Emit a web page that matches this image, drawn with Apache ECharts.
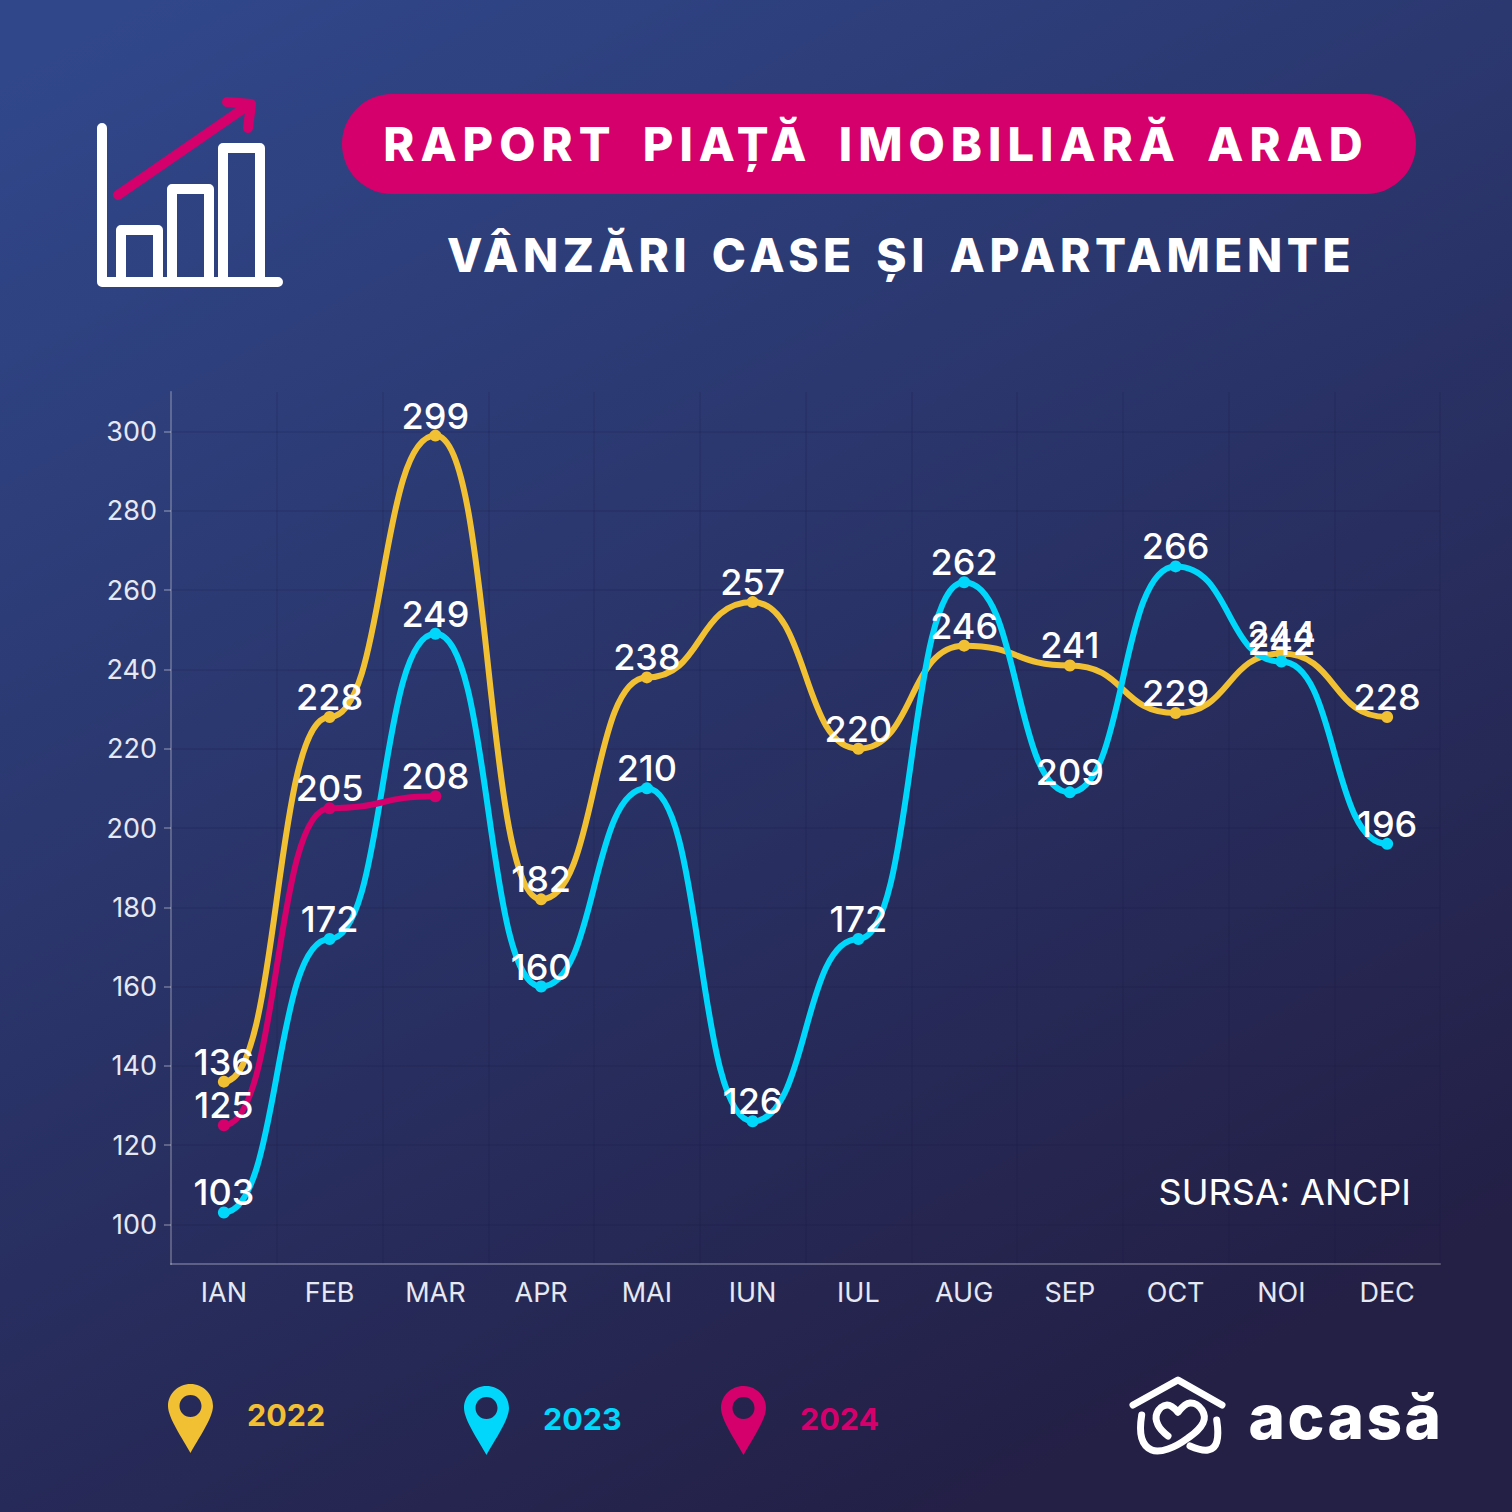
<!DOCTYPE html>
<html>

<head>
  <meta charset="utf-8">
  <script src="https://cdn.jsdelivr.net/npm/echarts@6/dist/echarts.min.js"></script>
  <style>
    html, body { margin: 0; padding: 0; }
    #chart { width: 1512px; height: 1512px; }
    /* letter spacing for the headings (svg renderer) */
    text[style*="47px"] { letter-spacing: 6px; word-spacing: 10px; }
    text[style*="46px"] { letter-spacing: 4.55px; word-spacing: 6px; }
    text[style*="62px"] { letter-spacing: 2.5px; }
  </style>
</head>

<body>
  <div id="chart"></div>
  <script>
    const months = ['IAN', 'FEB', 'MAR', 'APR', 'MAI', 'IUN', 'IUL', 'AUG', 'SEP', 'OCT', 'NOI', 'DEC']
    const yTicks = [100, 120, 140, 160, 180, 200, 220, 240, 260, 280, 300]
    const sales2022 = [136, 228, 299, 182, 238, 257, 220, 246, 241, 229, 244, 228]
    const sales2023 = [103, 172, 249, 160, 210, 126, 172, 262, 209, 266, 242, 196]
    const sales2024 = [125, 205, 208]

    const YELLOW = '#f2c033'
    const CYAN = '#00d7fb'
    const PINK = '#d5006b'
    const FONT = 'Inter'
    const HANDLE = 0.53
    const PIN = 'path://M22.5 0C35 0 45 10 45 22C45 34 30 55 22.5 69C15 55 0 34 0 22C0 10 10 0 22.5 0Z' +
      'M22.5 11C16.4 11 11.5 15.9 11.5 22C11.5 28.1 16.4 33 22.5 33C28.6 33 33.5 28.1 33.5 22C33.5 15.9 28.6 11 22.5 11Z'

    // every point has a flat tangent, also the first and the last one, which a line series can't do
    function makeCurve(name, data, color) {
      return {
        name: name,
        type: 'custom',
        color: color,
        silent: true,
        data: data,
        encode: { x: 0, y: 1 },
        renderItem: function (params, api) {
          const i = params.dataIndex
          if (i >= data.length - 1) return null
          const a = api.coord([i, data[i]])
          const b = api.coord([i + 1, data[i + 1]])
          const dx = (b[0] - a[0]) * HANDLE
          return {
            type: 'bezierCurve',
            shape: {
              x1: a[0], y1: a[1],
              cpx1: a[0] + dx, cpy1: a[1],
              cpx2: b[0] - dx, cpy2: b[1],
              x2: b[0], y2: b[1]
            },
            style: { fill: null, stroke: color, lineWidth: 6, lineCap: 'round' }
          }
        }
      }
    }

    function makePoints(name, data, color) {
      return {
        name: name,
        type: 'scatter',
        data: data,
        symbol: 'circle',
        symbolSize: 12,
        color: color,
        itemStyle: { color: color, opacity: 1 },
        label: {
          show: true,
          position: 'top',
          distance: -4,
          color: '#fff',
          fontFamily: FONT,
          fontSize: 36,
          fontWeight: 500
        }
      }
    }

    function makeLegend(name, color, left, top, raise) {
      return {
        data: [name],
        left: left,
        top: top,
        padding: 0,
        icon: PIN,
        itemWidth: 45,
        itemHeight: 69,
        selectedMode: false,
        formatter: '{t|{name}}',
        textStyle: {
          rich: {
            t: {
              color: color,
              fontFamily: FONT,
              fontSize: 30.5,
              fontWeight: 700,
              padding: [0, 0, raise, 29]
            }
          }
        }
      }
    }

    function stroke(points, color, width, smooth) {
      return {
        type: 'polyline',
        shape: { points: points, smooth: smooth || 0 },
        style: { fill: null, stroke: color, lineWidth: width, lineCap: 'round', lineJoin: 'round' }
      }
    }

    function label(text, x, y, size, weight, color, align) {
      return {
        type: 'text',
        x: x,
        y: y,
        style: {
          text: text,
          fill: color,
          font: weight + ' ' + size + 'px ' + FONT,
          textAlign: align,
          textVerticalAlign: 'middle'
        }
      }
    }

    const option = {
      animation: false,
      backgroundColor: new echarts.graphic.LinearGradient(0.1, 0, 0.65, 1, [
        { offset: 0, color: '#30478a' },
        { offset: 1, color: '#231f45' }
      ]),
      grid: { left: 171, top: 392, width: 1269, height: 872 },
      legend: [
        makeLegend('2022', YELLOW, 168, 1384, 9),
        makeLegend('2023', CYAN, 464, 1386, 4),
        makeLegend('2024', PINK, 721, 1386, 4)
      ],
      xAxis: {
        type: 'category',
        data: months,
        boundaryGap: true,
        axisLine: { lineStyle: { color: 'rgba(255,255,255,0.25)', width: 2 } },
        axisTick: { alignWithLabel: true, length: 7, lineStyle: { color: 'rgba(255,255,255,0.25)', width: 2 } },
        axisLabel: { color: '#e6e8f2', fontFamily: FONT, fontSize: 27, margin: 15 },
        splitLine: { show: true, lineStyle: { color: 'rgba(25,25,70,0.18)', width: 1.5 } }
      },
      yAxis: {
        type: 'value',
        min: 90,
        max: 310,
        axisLine: { show: true, lineStyle: { color: 'rgba(255,255,255,0.25)', width: 2 } },
        axisTick: { show: true, length: 7, customValues: yTicks, lineStyle: { color: 'rgba(255,255,255,0.25)', width: 2 } },
        axisLabel: { color: '#e6e8f2', fontFamily: FONT, fontSize: 27, margin: 14, customValues: yTicks },
        splitLine: { show: true, lineStyle: { color: 'rgba(25,25,70,0.18)', width: 1.5 } }
      },
      series: [
        makeCurve('2022', sales2022, YELLOW),
        makeCurve('2023', sales2023, CYAN),
        makeCurve('2024', sales2024, PINK),
        makePoints('2022', sales2022, YELLOW),
        makePoints('2023', sales2023, CYAN),
        makePoints('2024', sales2024, PINK)
      ],
      graphic: [
        // title pill
        {
          type: 'rect',
          shape: { x: 342, y: 94, width: 1074, height: 100, r: 50 },
          style: { fill: PINK }
        },
        label('RAPORT PIAȚĂ IMOBILIARĂ ARAD', 876, 143, 47, 800, '#fff', 'center'),
        label('VÂNZĂRI CASE ȘI APARTAMENTE', 901, 255, 46, 800, '#fff', 'center'),
        label('SURSA: ANCPI', 1411, 1192, 36, 400, '#fff', 'right'),
        // chart icon
        stroke([[102, 128], [102, 282], [278, 282]], '#fff', 10),
        stroke([[121, 282], [121, 230], [158, 230], [158, 282]], '#fff', 10),
        stroke([[172, 282], [172, 189], [209, 189], [209, 282]], '#fff', 10),
        stroke([[223, 282], [223, 148], [260, 148], [260, 282]], '#fff', 10),
        stroke([[118, 195], [250, 104]], PINK, 10),
        stroke([[227, 102], [251, 104], [248, 128]], PINK, 10),
        // acasa logo
        stroke([[1133, 1405], [1178, 1380], [1222, 1405]], '#fff', 7),
        stroke([[1141.7, 1415], [1141.7, 1438], [1151.7, 1450], [1168, 1449], [1188, 1438], [1203, 1423], [1202, 1410], [1190, 1403], [1178, 1412]], '#fff', 7, 0.4),
        stroke([[1178, 1412], [1167, 1405], [1157, 1413], [1158, 1425], [1168, 1436]], '#fff', 7, 0.4),
        stroke([[1216.7, 1420], [1216.7, 1442], [1208, 1450], [1190, 1446]], '#fff', 7, 0.4),
        label('acasă', 1346, 1416, 62, 800, '#fff', 'center')
      ]
    }

    const chart = echarts.init(document.getElementById('chart'), null, { renderer: 'svg' })
    chart.setOption(option)
  </script>
</body>

</html>
